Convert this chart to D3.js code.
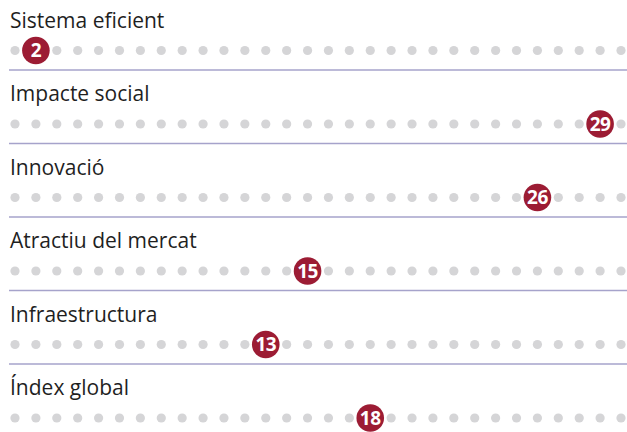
<!DOCTYPE html>
<html>
<head>
<meta charset="utf-8">
<script src="https://cdn.jsdelivr.net/npm/d3@7"></script>
<style>
  body { margin: 0; background: #fff; }
  svg { display: block; font-family: "Open Sans", sans-serif; }
</style>
</head>
<body>
<svg width="627" height="432"></svg>
<script>
// rows and their rank out of 30
const categories = ["Sistema eficient", "Impacte social", "Innovació", "Atractiu del mercat", "Infraestructura", "Índex global"];
const ranks = [2, 29, 26, 15, 13, 18];
const positions = d3.range(1, 31);

const svg = d3.select("svg"),
    width = +svg.attr("width"),
    height = +svg.attr("height");

const x = d3.scalePoint()
    .domain(positions)
    .range([15, 621]);

const y = d3.scaleBand()
    .domain(categories)
    .range([0, 441]);

const rows = svg.selectAll("g.row")
    .data(categories)
    .join("g")
    .attr("class", "row")
    .attr("transform", d => `translate(0,${y(d)})`);

rows.append("text")
    .attr("x", 10)
    .attr("y", 27.5)
    .attr("fill", "#1f1f1f")
    .style("font-size", "21px")
    .text(d => d);

// grey dots
rows.selectAll("circle.dot")
    .data(positions)
    .join("circle")
    .attr("class", "dot")
    .attr("cx", d => x(d))
    .attr("cy", 50.5)
    .attr("r", 4.6)
    .attr("fill", "#d5d5d7");

// highlighted rank
rows.append("circle")
    .attr("cx", (d, i) => x(ranks[i]))
    .attr("cy", 50.5)
    .attr("r", 13.8)
    .attr("fill", "#9c1c34");

rows.append("text")
    .attr("x", (d, i) => x(ranks[i]))
    .attr("y", 50.5)
    .attr("dy", "0.36em")
    .attr("text-anchor", "middle")
    .attr("fill", "#fff")
    .style("font-size", "19px")
    .style("font-weight", "700")
    .style("letter-spacing", "-0.5px")
    .text((d, i) => ranks[i]);

// separators
rows.filter((d, i) => i < categories.length - 1)
    .append("line")
    .attr("x1", 9)
    .attr("x2", width)
    .attr("y1", 70)
    .attr("y2", 70)
    .attr("stroke", "#a6a3cb")
    .attr("stroke-width", 1.3);
</script>
</body>
</html>
